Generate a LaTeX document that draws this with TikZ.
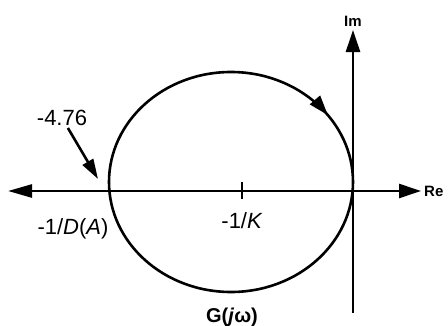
\documentclass[tikz,border=0pt]{standalone}
\usepackage{fontspec}
\setmainfont{Liberation Sans}
\usetikzlibrary{arrows.meta, positioning, decorations.markings}
\tikzstyle{axisline} = [line width=2.6pt, draw=black]
\tikzstyle{axislabel} = [font=\bfseries\fontsize{15}{17}\selectfont, inner sep=1pt]
\tikzstyle{plotlabel} = [font=\fontsize{22}{26}\selectfont, inner sep=2pt]
\tikzstyle{pointer} = [line width=2.6pt, -{Triangle[length=20pt,width=12pt]}]
\tikzstyle{locus} = [line width=2.6pt, postaction=decorate,
decoration={markings, mark=at position 0.1 with {\arrowreversed{Triangle[length=20pt,width=13pt]}}}]

\begin{document}
\begin{tikzpicture}[x=1pt, y=1pt]
        \useasboundingbox (0,0) rectangle (448,325);

        % Puntos
        \coordinate (reL) at (8,134);
        \coordinate (reR) at (421,134);
        \coordinate (imB) at (353,12);
        \coordinate (imT) at (353,295);
        \coordinate (cen) at (231,143);
        \coordinate (hit) at (98,146);
        \coordinate (tickT) at (242,143);
        \coordinate (tickB) at (242,126);

        % Nodos
        \node (re) [axislabel, right=2pt of reR] {Re};
        \node (im) [axislabel, above=2pt of imT] {Im};
        \node (val) [plotlabel] at (62,207) {-4.76};
        \node (dinv) [plotlabel] at (73,96) {-1/\textit{D}(\textit{A})};
        \node (kinv) [plotlabel] at (242,104) {-1/\textit{K}};
        \node (gjw) [plotlabel, font=\bfseries\fontsize{20}{24}\selectfont] at (232,8) {G(\textit{j}ω)};

        % Conexiones
        \draw [axisline, {Triangle[length=24pt,width=13pt]}-{Triangle[length=22pt,width=14pt]}] (reL) -- (reR);
        \draw [axisline, -{Triangle[length=22pt,width=14pt]}] (imB) -- (imT);
        \draw [axisline] (tickB) -- (tickT);
        \draw [locus] (cen) ellipse [x radius=122pt, y radius=110pt];
        \draw [pointer] (val) -- (hit);

    \end{tikzpicture}
\end{document}
